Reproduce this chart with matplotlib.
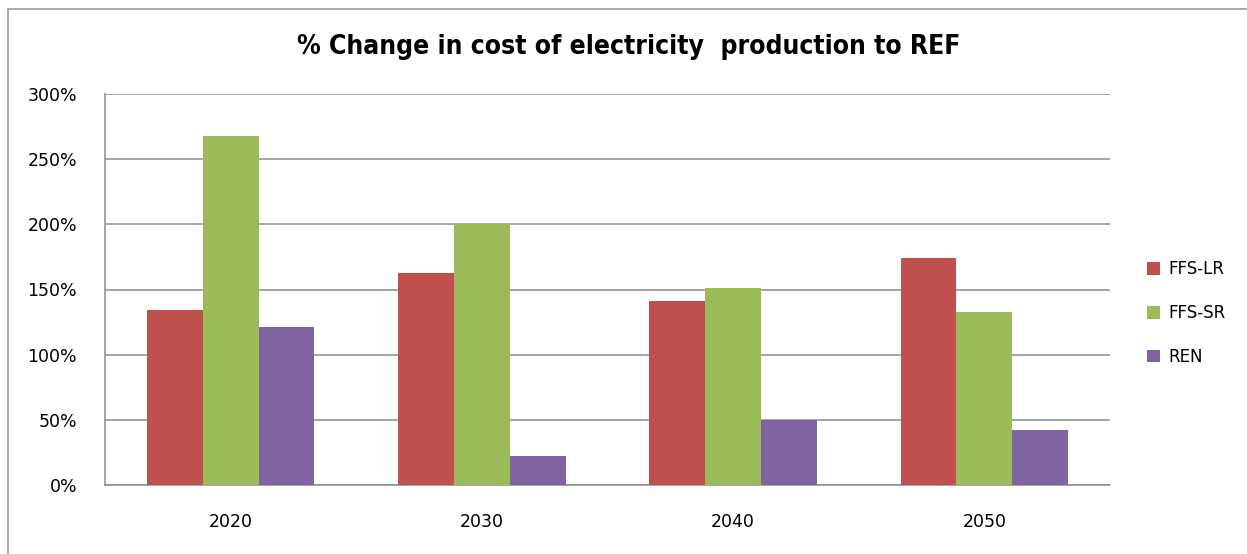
import numpy as np
import matplotlib.pyplot as plt
from matplotlib.lines import Line2D

años = ["2020", "2030", "2040", "2050"]
series = ["FFS-LR", "FFS-SR", "REN"]
ffs_lr = [134, 163, 141, 174]
ffs_sr = [268, 200, 151, 133]
ren = [121, 22, 50, 42]
colores = ["#C0504D", "#9BBB59", "#8064A2"]
ticks_y = [0, 50, 100, 150, 200, 250, 300]

plt.rcParams['font.family'] = ['DejaVu Sans']

fig = plt.figure(figsize=(12.47, 5.54), dpi=100)
ax = fig.add_axes([105/1247, 1-485/554, (1110-105)/1247, (485-94)/554])

x = np.arange(len(años))
ancho = 1/4.5
for i, (nombre, vals) in enumerate(zip(series, [ffs_lr, ffs_sr, ren])):
    ax.bar(x + (i-1)*ancho, vals, width=ancho, color=colores[i], label=nombre, zorder=3)

ax.set_xlim(-0.5, 3.5)
ax.set_ylim(0, 300)
ax.set_yticks(ticks_y)
ax.set_yticklabels([f"{t}%" for t in ticks_y])
ax.set_xticks(x)
ax.set_xticklabels(años)
ax.tick_params(axis='both', length=0, labelsize=12.5)
ax.tick_params(axis='y', pad=20)
ax.tick_params(axis='x', pad=20)
ax.grid(axis='y', color='#8c8c8c', lw=1.1, zorder=0)
for lado in ['top', 'right']:
    ax.spines[lado].set_visible(False)
for lado in ['left', 'bottom']:
    ax.spines[lado].set_color('#8c8c8c')
    ax.spines[lado].set_linewidth(1.1)

fig.text(0.504, 1-47/554, "% Change in cost of electricity  production to REF",
         ha='center', va='center', fontsize=19, fontweight='bold',
         family=['DejaVu Sans Condensed', 'DejaVu Sans'], fontstretch='condensed')

leg = ax.legend(loc='center left', bbox_to_anchor=(1.022, 0.44), frameon=False,
                fontsize=12, handlelength=0.8, handleheight=0.8,
                labelspacing=1.55, handletextpad=0.45)

# borde exterior del gráfico
fig.add_artist(Line2D([8/1247, 8/1247], [0, 1-9/554], color='#a0a0a0', lw=1.3))
fig.add_artist(Line2D([8/1247, 1], [1-9/554, 1-9/554], color='#a0a0a0', lw=1.3))

plt.savefig("out.png", dpi=100)
